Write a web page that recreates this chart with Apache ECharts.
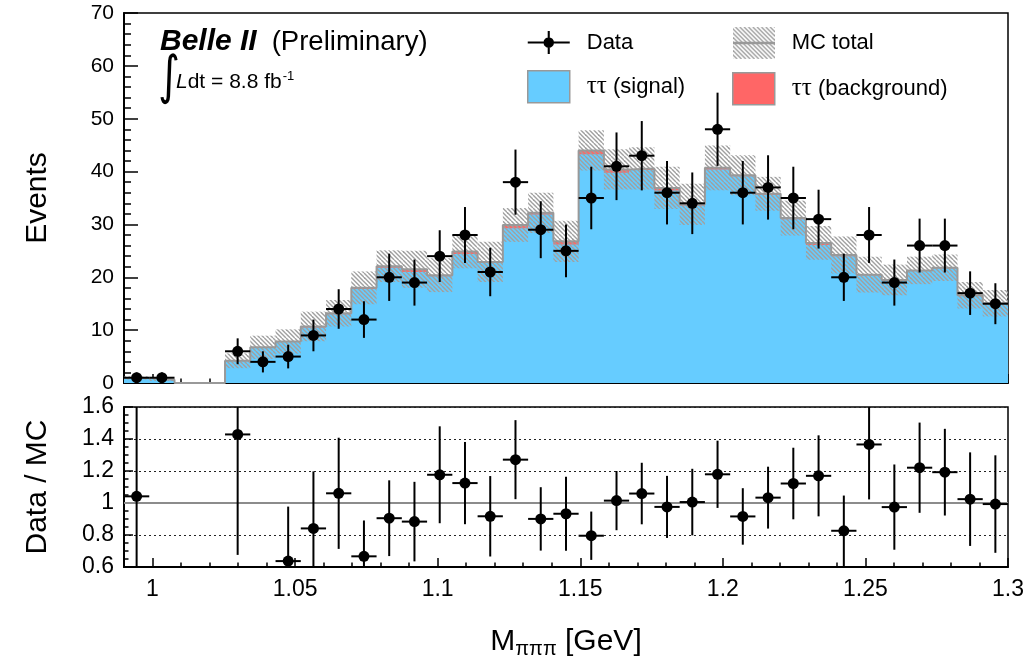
<!DOCTYPE html>
<html>
<head>
<meta charset="UTF-8">
<title>Belle II - M(3pi)</title>
<script src="https://cdn.jsdelivr.net/npm/echarts@6/dist/echarts.min.js"></script>
<style>
  html, body { margin: 0; padding: 0; background: #fff; }
  #chart { width: 1032px; height: 667px; }
</style>
</head>
<body>
<div id="chart"></div>
<script>
// histogram binning: 35 bins from 0.99 to 1.3 GeV
var xLow = 0.99, xHigh = 1.3, nBins = 35;

// observed events per bin
var dataCounts = [1, 1, 0, 0, 6, 4, 5, 9, 14, 12, 20, 19, 24, 28, 21, 38, 29, 25, 35, 41,
                  43, 36, 34, 48, 36, 37, 35, 31, 20, 28, 19, 26, 26, 17, 15];
// MC: tau tau signal and tau tau background (stacked)
var sigMC = [0.96, 0.6, 0, 0, 4.2, 6.65, 7.75, 10.5, 13.0, 17.8, 21.8, 21.0, 20.2, 24.4, 22.7, 29.3, 31.9, 26.2, 43.3, 39.8,
             40.3, 36.4, 33.6, 40.4, 39.1, 35.6, 31.0, 26.1, 24.0, 20.4, 19.4, 21.2, 21.7, 16.5, 15.1];
var bkgMC = [0, 0, 0, 0, 0, 0.1, 0.1, 0.2, 0.2, 0.2, 0.3, 0.5, 0.2, 0.5, 0.2, 0.6, 0.3, 0.6, 0.7, 0.6,
             0.3, 0.5, 0.2, 0.3, 0.2, 0.2, 0.2, 0.4, 0.2, 0.1, 0.1, 0.1, 0.1, 0.1, 0];
// MC total uncertainty (half width of hatched band)
var mcErr = [0.3, 0.2, 0, 0, 1.4, 2.2, 2.3, 2.8, 2.5, 3.1, 3.0, 3.5, 3.2, 3.2, 3.8, 3.2, 3.8, 3.9, 3.8, 3.8,
             4.0, 4.0, 3.9, 4.25, 3.8, 3.2, 3.3, 3.2, 3.5, 3.4, 2.9, 2.6, 2.5, 2.5, 2.5];

var xMajor = [1, 1.05, 1.1, 1.15, 1.2, 1.25, 1.3];
var xMinor = [0.99, 1.0, 1.01, 1.02, 1.03, 1.04, 1.05, 1.06, 1.07, 1.08, 1.09, 1.1, 1.11, 1.12, 1.13, 1.14, 1.15,
              1.16, 1.17, 1.18, 1.19, 1.2, 1.21, 1.22, 1.23, 1.24, 1.25, 1.26, 1.27, 1.28, 1.29, 1.3];

var FONT = "'Liberation Sans', Arial, Helvetica, sans-serif";
var SERIF = "'Liberation Serif', 'DejaVu Serif', serif";
var BLUE = '#66ccff', RED = '#ff6666', GREY = '#999999';

var binW = (xHigh - xLow) / nBins;
var lo = [], hi = [], mid = [];
for (var i = 0; i < nBins; i++) {
  lo.push(xLow + i * binW);
  hi.push(xLow + (i + 1) * binW);
  mid.push(xLow + (i + 0.5) * binW);
}

// step series points: one point per low edge + closing point
function stepData(vals) {
  var out = [];
  for (var i = 0; i < nBins; i++) out.push([lo[i], vals[i]]);
  out.push([xHigh, vals[nBins - 1]]);
  return out;
}

var mcTot = sigMC.map(function (s, i) { return s + bkgMC[i]; });

var bandRects = [];
for (var i = 0; i < nBins; i++) {
  if (mcErr[i] > 0) bandRects.push([lo[i], hi[i], Math.max(mcTot[i] - mcErr[i], 0), mcTot[i] + mcErr[i]]);
}

// hatch pattern ( \\\ ) for the MC uncertainty
function makeHatch(w, h, withLine) {
  var c = document.createElement('canvas');
  c.width = w; c.height = h;
  var g = c.getContext('2d');
  g.strokeStyle = '#a0a0a0';
  g.lineWidth = 1.4;
  var step = 13 / 3;
  for (var off = -h; off < w + h; off += step) {
    g.beginPath();
    g.moveTo(off, 0);
    g.lineTo(off + h, h);
    g.stroke();
  }
  if (withLine) {
    g.strokeStyle = GREY;
    g.lineWidth = 2.5;
    g.beginPath();
    g.moveTo(0, h / 2);
    g.lineTo(w, h / 2);
    g.stroke();
  }
  return c;
}
var hatchTile = makeHatch(13, 13, false);
var hatchIcon = makeHatch(42, 32, true).toDataURL();

// data points with errors
var pointsTop = [];
for (var i = 0; i < nBins; i++) {
  if (dataCounts[i] > 0) pointsTop.push([mid[i], dataCounts[i], lo[i], hi[i], Math.sqrt(dataCounts[i])]);
}
// ratio: data stat error combined with MC uncertainty
var pointsRatio = [];
for (var i = 0; i < nBins; i++) {
  if (dataCounts[i] > 0 && mcTot[i] > 0) {
    var r = dataCounts[i] / mcTot[i];
    var rel = Math.sqrt(1 / dataCounts[i] + Math.pow(mcErr[i] / mcTot[i], 2));
    if (r >= 0.6 && r <= 1.6) pointsRatio.push([mid[i], r, lo[i], hi[i], r * rel]);
  }
}

function errItem(params, api) {
  var x = api.value(0), y = api.value(1), e = api.value(4);
  var c = api.coord([x, y]);
  var l = api.coord([api.value(2), y]);
  var r = api.coord([api.value(3), y]);
  var t = api.coord([x, y + e]);
  var b = api.coord([x, y - e]);
  var ls = { stroke: '#000', lineWidth: 2 };
  return {
    type: 'group',
    children: [
      { type: 'line', shape: { x1: l[0], y1: c[1], x2: r[0], y2: c[1] }, style: ls },
      { type: 'line', shape: { x1: c[0], y1: t[1], x2: c[0], y2: b[1] }, style: ls },
      { type: 'circle', shape: { cx: c[0], cy: c[1], r: 5.5 }, style: { fill: '#000' } }
    ]
  };
}

function bandItem(params, api) {
  var a = api.coord([api.value(0), api.value(2)]);
  var b = api.coord([api.value(1), api.value(3)]);
  return {
    type: 'rect',
    shape: { x: a[0], y: b[1], width: b[0] - a[0], height: a[1] - b[1] },
    style: { fill: { image: hatchTile, repeat: 'repeat' } }
  };
}

function xAxes(gridIndex, labels) {
  var major = {
    type: 'value', gridIndex: gridIndex, min: xLow, max: xHigh, position: 'bottom',
    axisLine: { show: true, lineStyle: { color: '#000', width: 2 } },
    axisTick: { show: true, inside: true, length: 9, customValues: xMajor, lineStyle: { color: '#000', width: 1.5 } },
    axisLabel: { show: labels, customValues: xMajor, fontSize: 23, fontFamily: FONT, color: '#000', margin: 11 },
    splitLine: { show: false }
  };
  var minor = {
    type: 'value', gridIndex: gridIndex, min: xLow, max: xHigh, position: 'bottom',
    axisLine: { show: false },
    axisTick: { show: true, inside: true, length: 4.5, customValues: xMinor, lineStyle: { color: '#000', width: 1.5 } },
    axisLabel: { show: false },
    splitLine: { show: false }
  };
  if (labels) {
    major.name = '{m|M}{s|πππ}{m| [GeV]}';
    major.nameLocation = 'middle';
    major.nameGap = 58;
    major.nameTextStyle = {
      fontFamily: FONT, color: '#000', fontSize: 30,
      rich: {
        m: { fontFamily: FONT, fontSize: 30, color: '#000' },
        s: { fontFamily: FONT, fontSize: 20, color: '#000', padding: [14, 0, 0, 0] }
      }
    };
  }
  return [major, minor];
}

function legendText(name) {
  return name.replace('ττ', '{t|ττ}');
}
var legendTextStyle = {
  fontFamily: FONT, fontSize: 22, color: '#000', padding: [0, 0, 0, 12],
  rich: { t: { fontFamily: SERIF, fontSize: 25, color: '#000' } }
};

var chart = echarts.init(document.getElementById('chart'), null, { renderer: 'canvas' });

var option = {
  animation: false,
  backgroundColor: '#fff',
  grid: [
    { left: 124, top: 13, width: 884, height: 370, show: true, borderColor: '#000', borderWidth: 1.5, backgroundColor: 'transparent' },
    { left: 124, top: 407, width: 884, height: 160, show: true, borderColor: '#000', borderWidth: 1.5, backgroundColor: 'transparent' }
  ],
  xAxis: xAxes(0, false).concat(xAxes(1, true)),
  yAxis: [
    {
      type: 'value', gridIndex: 0, min: 0, max: 70, interval: 10,
      name: 'Events', nameLocation: 'middle', nameGap: 71,
      nameTextStyle: { fontFamily: FONT, fontSize: 30, color: '#000' },
      axisLine: { show: true, lineStyle: { color: '#000', width: 2 } },
      axisTick: { show: true, inside: true, length: 14, lineStyle: { color: '#000', width: 1.5 } },
      minorTick: { show: true, splitNumber: 5, length: 7, lineStyle: { color: '#000', width: 1.5 } },
      axisLabel: { fontSize: 21, fontFamily: FONT, color: '#000', margin: 10 },
      splitLine: { show: false }
    },
    {
      type: 'value', gridIndex: 1, min: 0.6, max: 1.6, interval: 0.2,
      name: 'Data / MC', nameLocation: 'middle', nameGap: 71,
      nameTextStyle: { fontFamily: FONT, fontSize: 30, color: '#000' },
      axisLine: { show: true, lineStyle: { color: '#000', width: 2 } },
      axisTick: { show: true, inside: true, length: 9, lineStyle: { color: '#000', width: 1.5 } },
      minorTick: { show: true, splitNumber: 4, length: 4.5, lineStyle: { color: '#000', width: 1.5 } },
      axisLabel: { fontSize: 23, fontFamily: FONT, color: '#000', margin: 10 },
      splitLine: { show: true, lineStyle: { color: '#222', width: 1, type: [2, 3] } }
    }
  ],
  legend: [
    {
      left: 527, top: 31, padding: 0, orient: 'vertical', itemWidth: 42, itemHeight: 32, itemGap: 16,
      selectedMode: false, formatter: legendText, textStyle: legendTextStyle,
      data: [
        { name: 'Data', icon: 'path://M0,10h40v2h-40zM19,0h2v22h-2zM20,6a5,5 0 1,1 -0.01,0z', itemStyle: { color: '#000', borderWidth: 0 } },
        { name: 'ττ (signal)', icon: 'rect', itemStyle: { color: BLUE, borderColor: GREY, borderWidth: 1.5 } }
      ]
    },
    {
      left: 732, top: 27, padding: 0, orient: 'vertical', itemWidth: 42, itemHeight: 32, itemGap: 13,
      selectedMode: false, formatter: legendText, textStyle: legendTextStyle,
      data: [
        { name: 'MC total', icon: 'image://' + hatchIcon },
        { name: 'ττ (background)', icon: 'rect', itemStyle: { color: RED, borderColor: GREY, borderWidth: 1.5 } }
      ]
    }
  ],
  graphic: [
    {
      type: 'text', left: 160, top: 27,
      style: {
        text: '{b|Belle II}  {n|(Preliminary)}',
        fontFamily: FONT, fontSize: 27, fill: '#000',
        rich: {
          b: { fontFamily: FONT, fontSize: 30, fontWeight: 'bold', fontStyle: 'italic' },
          n: { fontFamily: FONT, fontSize: 27.5 }
        }
      }
    },
    {
      type: 'text', left: 158, top: 53, scaleY: 1.25,
      style: { text: '∫', fontFamily: 'DejaVu Sans', fontSize: 42, fill: '#000' }
    },
    {
      type: 'text', left: 176, top: 70,
      style: {
        text: '{i|L}dt = 8.8 fb{sup|-1}',
        fontFamily: FONT, fontSize: 21, fill: '#000',
        rich: {
          i: { fontFamily: FONT, fontSize: 21, fontStyle: 'italic' },
          sup: { fontFamily: FONT, fontSize: 13, padding: [0, 0, 12, 1] }
        }
      }
    }
  ],
  series: [
    {
      name: 'ττ (background)', type: 'line', step: 'end', xAxisIndex: 0, yAxisIndex: 0,
      showSymbol: false, symbol: 'none', z: 1,
      lineStyle: { width: 0 }, areaStyle: { color: RED, opacity: 1 },
      itemStyle: { color: RED },
      data: stepData(mcTot)
    },
    {
      name: 'ττ (signal)', type: 'line', step: 'end', xAxisIndex: 0, yAxisIndex: 0,
      showSymbol: false, symbol: 'none', z: 2,
      lineStyle: { width: 0 }, areaStyle: { color: BLUE, opacity: 1 },
      itemStyle: { color: BLUE },
      data: stepData(sigMC)
    },
    {
      name: 'MC total', type: 'custom', xAxisIndex: 0, yAxisIndex: 0, z: 3, clip: true,
      itemStyle: { color: GREY },
      renderItem: bandItem,
      encode: { x: [0, 1], y: [2, 3] },
      data: bandRects
    },
    {
      name: 'mcOutline', type: 'line', step: 'end', xAxisIndex: 0, yAxisIndex: 0,
      showSymbol: false, symbol: 'none', z: 4,
      lineStyle: { color: GREY, width: 2 },
      data: stepData(mcTot)
    },
    {
      name: 'Data', type: 'custom', xAxisIndex: 0, yAxisIndex: 0, z: 10, clip: true,
      itemStyle: { color: '#000' },
      renderItem: errItem,
      encode: { x: 0, y: 1 },
      data: pointsTop
    },
    {
      name: 'ratio', type: 'custom', xAxisIndex: 2, yAxisIndex: 1, z: 10, clip: true,
      renderItem: errItem,
      encode: { x: 0, y: 1 },
      data: pointsRatio,
      markLine: {
        silent: true, symbol: 'none', label: { show: false },
        lineStyle: { color: '#8c8c8c', width: 2, type: 'solid' },
        data: [{ yAxis: 1 }]
      }
    }
  ]
};

chart.setOption(option);
</script>
</body>
</html>
